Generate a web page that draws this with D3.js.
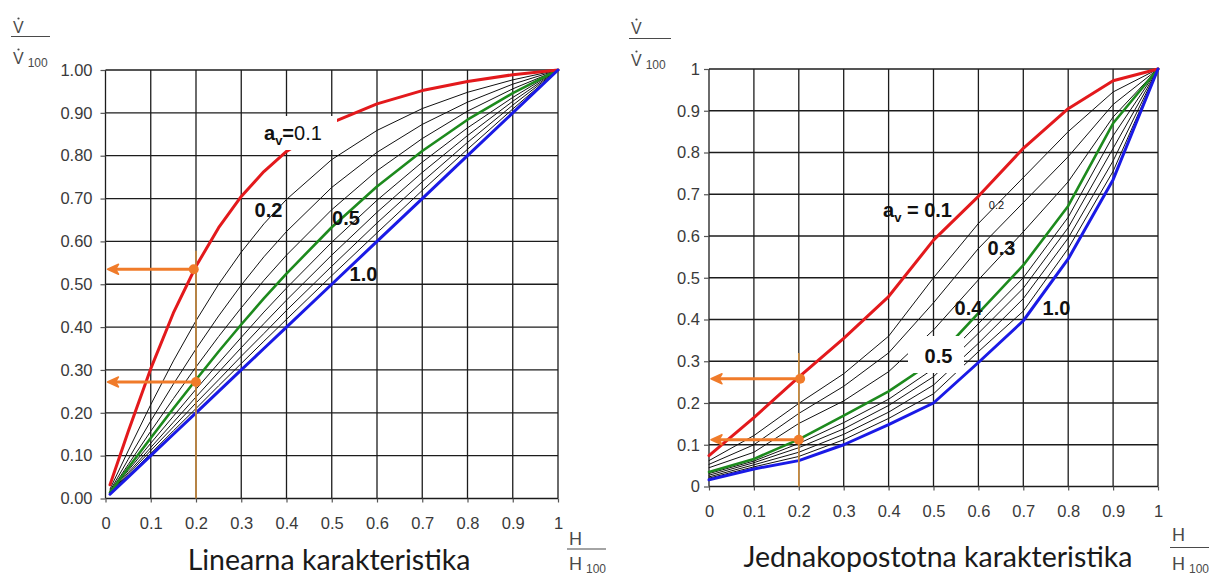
<!DOCTYPE html>
<html><head><meta charset="utf-8">
<script src="https://cdn.jsdelivr.net/npm/d3@7"></script>
<style>body{margin:0;background:#fff}svg{display:block}</style>
</head><body>
<svg id="c" width="1211" height="578"></svg>
<script>
// ---------- DATA ----------
// Left chart: linear characteristic, relative stroke H/H100
const hLin = [0.01, 0.05, 0.1, 0.15, 0.2, 0.25, 0.3, 0.35, 0.4, 0.5, 0.6, 0.7, 0.8, 0.9, 1.0];
const lin01 = [0.032, 0.156, 0.303, 0.433, 0.542, 0.632, 0.705, 0.763, 0.810, 0.877, 0.921, 0.952, 0.973, 0.989, 1];
const lin02 = [0.022, 0.111, 0.219, 0.321, 0.415, 0.500, 0.575, 0.641, 0.698, 0.791, 0.859, 0.910, 0.948, 0.977, 1];
const lin03 = [0.018, 0.091, 0.181, 0.267, 0.349, 0.426, 0.498, 0.564, 0.623, 0.726, 0.808, 0.873, 0.925, 0.967, 1];
const lin04 = [0.016, 0.079, 0.157, 0.233, 0.307, 0.378, 0.445, 0.509, 0.568, 0.674, 0.765, 0.840, 0.904, 0.956, 1];
const lin05 = [0.014, 0.071, 0.141, 0.210, 0.277, 0.343, 0.406, 0.467, 0.525, 0.633, 0.728, 0.811, 0.884, 0.946, 1];
const lin06 = [0.013, 0.065, 0.129, 0.192, 0.255, 0.316, 0.376, 0.435, 0.491, 0.598, 0.696, 0.785, 0.865, 0.936, 1];
const lin07 = [0.012, 0.060, 0.119, 0.178, 0.237, 0.295, 0.352, 0.408, 0.463, 0.568, 0.668, 0.761, 0.847, 0.927, 1];
const lin08 = [0.011, 0.056, 0.112, 0.167, 0.223, 0.277, 0.332, 0.385, 0.439, 0.542, 0.643, 0.739, 0.831, 0.918, 1];
const lin09 = [0.011, 0.053, 0.105, 0.158, 0.210, 0.263, 0.315, 0.367, 0.418, 0.520, 0.620, 0.719, 0.815, 0.909, 1];
const lin10 = [0.010, 0.050, 0.100, 0.150, 0.200, 0.250, 0.300, 0.350, 0.400, 0.500, 0.600, 0.700, 0.800, 0.900, 1];

// Right chart: equal-percentage characteristic
const hEq = [0, 0.1, 0.2, 0.3, 0.4, 0.5, 0.6, 0.7, 0.8, 0.9, 1.0];
const eq01 = [0.074, 0.165, 0.262, 0.355, 0.455, 0.590, 0.695, 0.810, 0.905, 0.972, 1];
const eq02 = [0.062, 0.122, 0.199, 0.270, 0.360, 0.500, 0.630, 0.740, 0.850, 0.945, 1];
const eq03 = [0.053, 0.100, 0.175, 0.240, 0.320, 0.440, 0.570, 0.680, 0.790, 0.915, 1];
const eq04 = [0.045, 0.082, 0.151, 0.205, 0.275, 0.375, 0.495, 0.610, 0.730, 0.885, 1];
const eq05 = [0.035, 0.066, 0.113, 0.170, 0.228, 0.300, 0.415, 0.530, 0.672, 0.870, 1];
const eq06 = [0.031, 0.061, 0.103, 0.153, 0.209, 0.282, 0.390, 0.500, 0.645, 0.840, 1];
const eq07 = [0.027, 0.057, 0.093, 0.138, 0.194, 0.263, 0.367, 0.475, 0.620, 0.810, 1];
const eq08 = [0.023, 0.052, 0.082, 0.125, 0.178, 0.243, 0.343, 0.450, 0.595, 0.780, 1];
const eq09 = [0.020, 0.047, 0.072, 0.112, 0.163, 0.222, 0.323, 0.420, 0.570, 0.755, 1];
const eq10 = [0.016, 0.042, 0.062, 0.100, 0.148, 0.200, 0.297, 0.397, 0.545, 0.735, 1];

const authority = [0.1, 0.2, 0.3, 0.4, 0.5, 0.6, 0.7, 0.8, 0.9, 1.0];
const xTicks = [0, 0.1, 0.2, 0.3, 0.4, 0.5, 0.6, 0.7, 0.8, 0.9, 1];
const xTickLabels = ["0", "0.1", "0.2", "0.3", "0.4", "0.5", "0.6", "0.7", "0.8", "0.9", "1"];
const yTicks = [0, 0.1, 0.2, 0.3, 0.4, 0.5, 0.6, 0.7, 0.8, 0.9, 1];
const yTickLabelsLin = ["0.00", "0.10", "0.20", "0.30", "0.40", "0.50", "0.60", "0.70", "0.80", "0.90", "1.00"];
const yTickLabelsEq = ["0", "0.1", "0.2", "0.3", "0.4", "0.5", "0.6", "0.7", "0.8", "0.9", "1"];

// reading guides (stroke h -> flow)
const guideLin = [0.2, 0.578];
const arrowsLin = [[0.195, 0.535], [0.2, 0.272]];
const guideEq = [0.2, 0.32];
const arrowsEq = [[0.203, 0.258], [0.2, 0.112]];

// ---------- DRAW ----------
const svg = d3.select("#c");
const FONT = "'Liberation Sans', Arial, sans-serif";
const colorOf = i => i === 0 ? "#e3191c" : i === 4 ? "#1d8a1d" : i === 9 ? "#1a1ae6" : "#111";
const widthOf = i => i === 0 || i === 9 ? 3 : i === 4 ? 2.6 : 1;

function panel(cfg) {
  const x = d3.scaleLinear().domain([0, 1]).range([cfg.x0, cfg.x1]);
  const y = d3.scaleLinear().domain([0, 1]).range([cfg.y0, cfg.y1]);
  const g = svg.append("g");

  g.append("g").selectAll("line").data(xTicks).join("line")
    .attr("x1", d => x(d)).attr("x2", d => x(d)).attr("y1", y(0)).attr("y2", y(1))
    .attr("stroke", "#1c1c1c").attr("stroke-width", 1.3);
  g.append("g").selectAll("line").data(yTicks).join("line")
    .attr("y1", d => y(d)).attr("y2", d => y(d)).attr("x1", x(0)).attr("x2", x(1))
    .attr("stroke", "#1c1c1c").attr("stroke-width", 1.3);

  const xa = g.append("g").attr("transform", `translate(0,${cfg.y0})`)
    .call(d3.axisBottom(x).tickValues(xTicks).tickFormat((d, i) => xTickLabels[i]).tickSize(4).tickPadding(15));
  const ya = g.append("g").attr("transform", `translate(${cfg.x0},0)`)
    .call(d3.axisLeft(y).tickValues(yTicks).tickFormat((d, i) => cfg.yLabels[i]).tickSize(5).tickPadding(cfg.ypad));
  [xa, ya].forEach(a => {
    a.select(".domain").remove();
    a.selectAll("line").attr("stroke", "#555").attr("stroke-width", 1.2);
    a.selectAll("text").attr("fill", "#3a3a3a").style("font-family", FONT).style("font-size", "16.5px");
  });

  const line = d3.line().x((d, i) => x(cfg.h[i])).y(d => y(d));
  const order = [1, 2, 3, 5, 6, 7, 8, 4, 0, 9];
  g.append("g").selectAll("path").data(order).join("path")
    .attr("d", i => line(cfg.series[i]))
    .attr("fill", "none").attr("stroke", i => colorOf(i)).attr("stroke-width", i => widthOf(i))
    .attr("stroke-linejoin", "round").attr("stroke-linecap", "round");

  const gd = g.append("g");
  gd.append("line").attr("x1", x(cfg.guide[0])).attr("x2", x(cfg.guide[0]))
    .attr("y1", y(cfg.guide[1])).attr("y2", y(0)).attr("stroke", "#c98a3c").attr("stroke-width", 1.6);
  cfg.arrows.forEach(([h, v]) => {
    const tip = x(0) + 2, yy = y(v);
    gd.append("line").attr("x1", x(h)).attr("x2", tip + 8).attr("y1", yy).attr("y2", yy)
      .attr("stroke", "#f07b2a").attr("stroke-width", 3);
    gd.append("path").attr("d", `M${tip},${yy} L${tip + 11},${yy - 5} L${tip + 8},${yy} L${tip + 11},${yy + 5} Z`)
      .attr("fill", "#f07b2a").attr("stroke", "#f07b2a").attr("stroke-width", 1.5).attr("stroke-linejoin", "round");
    gd.append("circle").attr("cx", x(h)).attr("cy", yy).attr("r", 5).attr("fill", "#f07b2a");
  });
  return { g, x, y };
}

const L = panel({ x0: 105.5, x1: 558, y0: 498.5, y1: 70, h: hLin,
  series: [lin01, lin02, lin03, lin04, lin05, lin06, lin07, lin08, lin09, lin10],
  yLabels: yTickLabelsLin, ypad: 8, guide: guideLin, arrows: arrowsLin });
const R = panel({ x0: 709, x1: 1158, y0: 486.5, y1: 69, h: hEq,
  series: [eq01, eq02, eq03, eq04, eq05, eq06, eq07, eq08, eq09, eq10],
  yLabels: yTickLabelsEq, ypad: 4, guide: guideEq, arrows: arrowsEq });

// ---------- LABELS ----------
function label(g, xx, yy, parts, size, weight, anchor) {
  const t = g.append("text").attr("x", xx).attr("y", yy).attr("text-anchor", anchor || "middle")
    .style("font-family", FONT).style("font-size", size + "px").style("font-weight", weight || "bold").attr("fill", "#111");
  parts.forEach(p => {
    const s = t.append("tspan").text(p.t);
    if (p.sub) s.attr("dy", 5).style("font-size", (size * 0.65) + "px");
    if (p.up) s.attr("dy", -5);
    if (p.w) s.style("font-weight", p.w);
  });
  return t;
}
L.g.append("rect").attr("x", 262).attr("y", 116).attr("width", 75).attr("height", 34).attr("fill", "#fff");
label(L.g, 264, 140, [{ t: "a" }, { t: "v", sub: true }, { t: "=" , up: true }, { t: "0.1", w: "normal" }], 20, "bold", "start");
label(L.g, 268.5, 217, [{ t: "0.2" }], 20);
label(L.g, 346, 224.5, [{ t: "0.5" }], 20);
label(L.g, 363.5, 280.5, [{ t: "1.0" }], 20);

R.g.append("rect").attr("x", 908).attr("y", 336).attr("width", 56).attr("height", 37).attr("fill", "#fff");
label(R.g, 883, 217, [{ t: "a" }, { t: "v", sub: true }, { t: " = 0.1", up: true }], 20, "bold", "start");
label(R.g, 996.5, 209, [{ t: "0.2" }], 11, "normal");
label(R.g, 1001.5, 255, [{ t: "0.3" }], 20);
label(R.g, 968.5, 315, [{ t: "0.4" }], 20);
label(R.g, 1056.5, 315, [{ t: "1.0" }], 20);
label(R.g, 938.5, 363, [{ t: "0.5" }], 20);

// axis quantity labels (fractions)
function frac(xx, ys, top, sub, w, size) {
  const g = svg.append("g").style("font-family", FONT).attr("fill", "#4a4a4a");
  const [yNum, yLine, yDen, ySub] = ys;
  g.append("text").attr("x", xx).attr("y", yNum).style("font-size", size + "px").text(top);
  g.append("line").attr("x1", xx - 2).attr("x2", xx - 2 + w).attr("y1", yLine).attr("y2", yLine)
    .attr("stroke", "#4a4a4a").attr("stroke-width", 1.1);
  const b = g.append("text").attr("x", xx).attr("y", yDen).style("font-size", size + "px");
  b.append("tspan").text(top);
  b.append("tspan").attr("dx", 4).attr("dy", ySub - yDen).style("font-size", "12px").text(sub);
  return g;
}
// flow-rate dot accents (drawn marks above the V letters)
function dots(g, xx, ys) {
  ys.forEach(yy => g.append("circle").attr("cx", xx).attr("cy", yy).attr("r", 1.1).attr("fill", "#4a4a4a"));
}
const fv1 = frac(13, [33, 36.5, 64, 67], "V", "100", 39, 16);
dots(fv1, 18.5, [18.5, 49.5]);
const fv2 = frac(631, [34, 38.5, 66, 69], "V", "100", 42, 16);
dots(fv2, 636.5, [19.5, 51.5]);
frac(569, [545, 549, 570, 573], "H", "100", 39, 18);
frac(1172, [541, 547.5, 570, 573], "H", "100", 39, 18);

// titles
svg.append("text").attr("x", 329).attr("y", 570).attr("text-anchor", "middle")
  .style("font-family", "Lato, 'Open Sans', sans-serif").style("font-size", "28.5px").attr("fill", "#1a1a1a")
  .text("Linearna karakteristika");
svg.append("text").attr("x", 938).attr("y", 567).attr("text-anchor", "middle")
  .style("font-family", "Lato, 'Open Sans', sans-serif").style("font-size", "28.5px").attr("fill", "#1a1a1a")
  .text("Jednakopostotna karakteristika");
</script>
</body></html>
